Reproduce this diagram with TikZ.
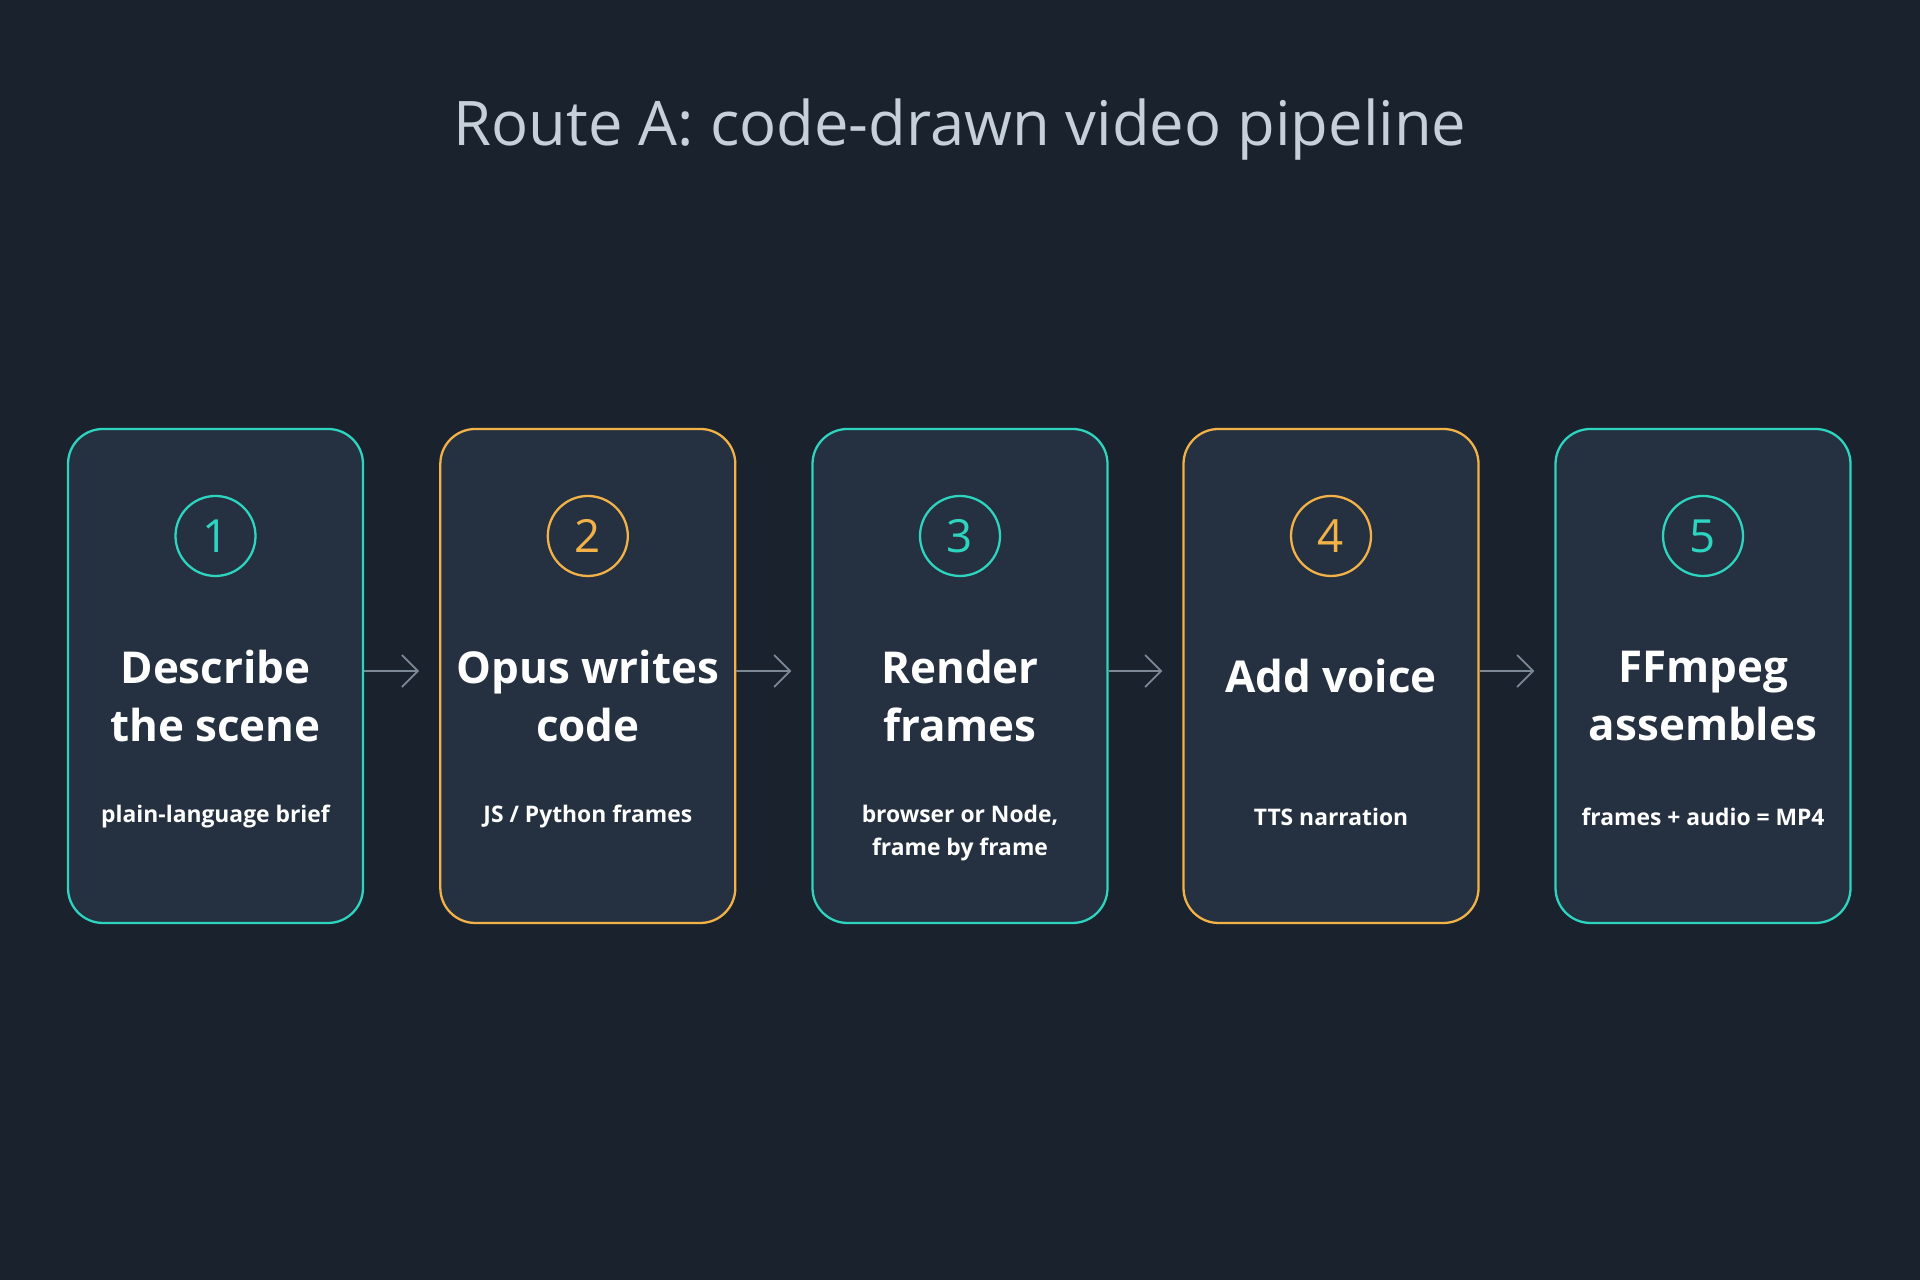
\documentclass[tikz,border=0pt]{standalone}
\usepackage{fontspec}
\setmainfont{Open Sans}
\usetikzlibrary{positioning,arrows.meta}
\definecolor{bgdark}{HTML}{1A222D}
\definecolor{boxfill}{HTML}{253140}
\definecolor{tealc}{HTML}{2DD4BF}
\definecolor{amberc}{HTML}{F2B247}
\definecolor{titlec}{HTML}{C5D0D8}
\definecolor{arrowc}{HTML}{7D8896}
\tikzset{
    step/.style={draw=#1, fill=boxfill, line width=0.65pt, rounded corners=0.35cm,
        minimum width=2.95cm, minimum height=4.94cm},
    badge/.style={circle, draw=#1, line width=0.65pt, minimum size=0.8cm, inner sep=0pt,
        text=#1, font=\fontsize{13}{13}\selectfont},
    head/.style={text=white, font=\bfseries\fontsize{12.5}{16.7}\selectfont, align=center},
    note/.style={text=white, font=\bfseries\fontsize{6.5}{9.4}\selectfont, align=center},
    flow/.style={-{Straight Barb[length=1.6mm]}, arrowc, line width=0.5pt, shorten >=0.2cm}
}
\begin{document}
\begin{tikzpicture}
\fill[bgdark] (0,0) rectangle (19.2,12.8);
\useasboundingbox (0,0) rectangle (19.2,12.8);

\node[text=titlec, font=\fontsize{17.5}{21}\selectfont] (title) at (9.6,11.5) {Route A: code-drawn video pipeline};

% steps
\node[step=tealc]  (s1) at (2.155,6.04) {};
\node[step=amberc] (s2) at (5.878,6.04) {};
\node[step=tealc]  (s3) at (9.60,6.04) {};
\node[step=amberc] (s4) at (13.31,6.04) {};
\node[step=tealc]  (s5) at (17.03,6.04) {};

\node[badge=tealc]  (b1) at (2.155,7.44) {1};
\node[badge=amberc] (b2) at (5.878,7.44) {2};
\node[badge=tealc]  (b3) at (9.60,7.44) {3};
\node[badge=amberc] (b4) at (13.31,7.44) {4};
\node[badge=tealc]  (b5) at (17.03,7.44) {5};

\node[head] (h1) at (2.155,5.84) {Describe\\the scene};
\node[head] (h2) at (5.878,5.84) {Opus writes\\code};
\node[head] (h3) at (9.60,5.84) {Render\\frames};
\node[head] (h4) at (13.31,6.04) {Add voice};
\node[head] (h5) at (17.03,5.84) {FFmpeg\\assembles};

\node[note] (n1) at (2.155,4.63) {plain-language brief};
\node[note] (n2) at (5.878,4.63) {JS / Python frames};
\node[note] (n3) at (9.60,4.47) {browser or Node,\\frame by frame};
\node[note] (n4) at (13.31,4.63) {TTS narration};
\node[note] (n5) at (17.03,4.63) {frames + audio = MP4};

% connectors
\foreach \a/\b in {s1/s2, s2/s3, s3/s4, s4/s5}
    \draw[flow] ([yshift=0.05cm]\a.east) -- ([yshift=0.05cm]\b.west);
\end{tikzpicture}
\end{document}
